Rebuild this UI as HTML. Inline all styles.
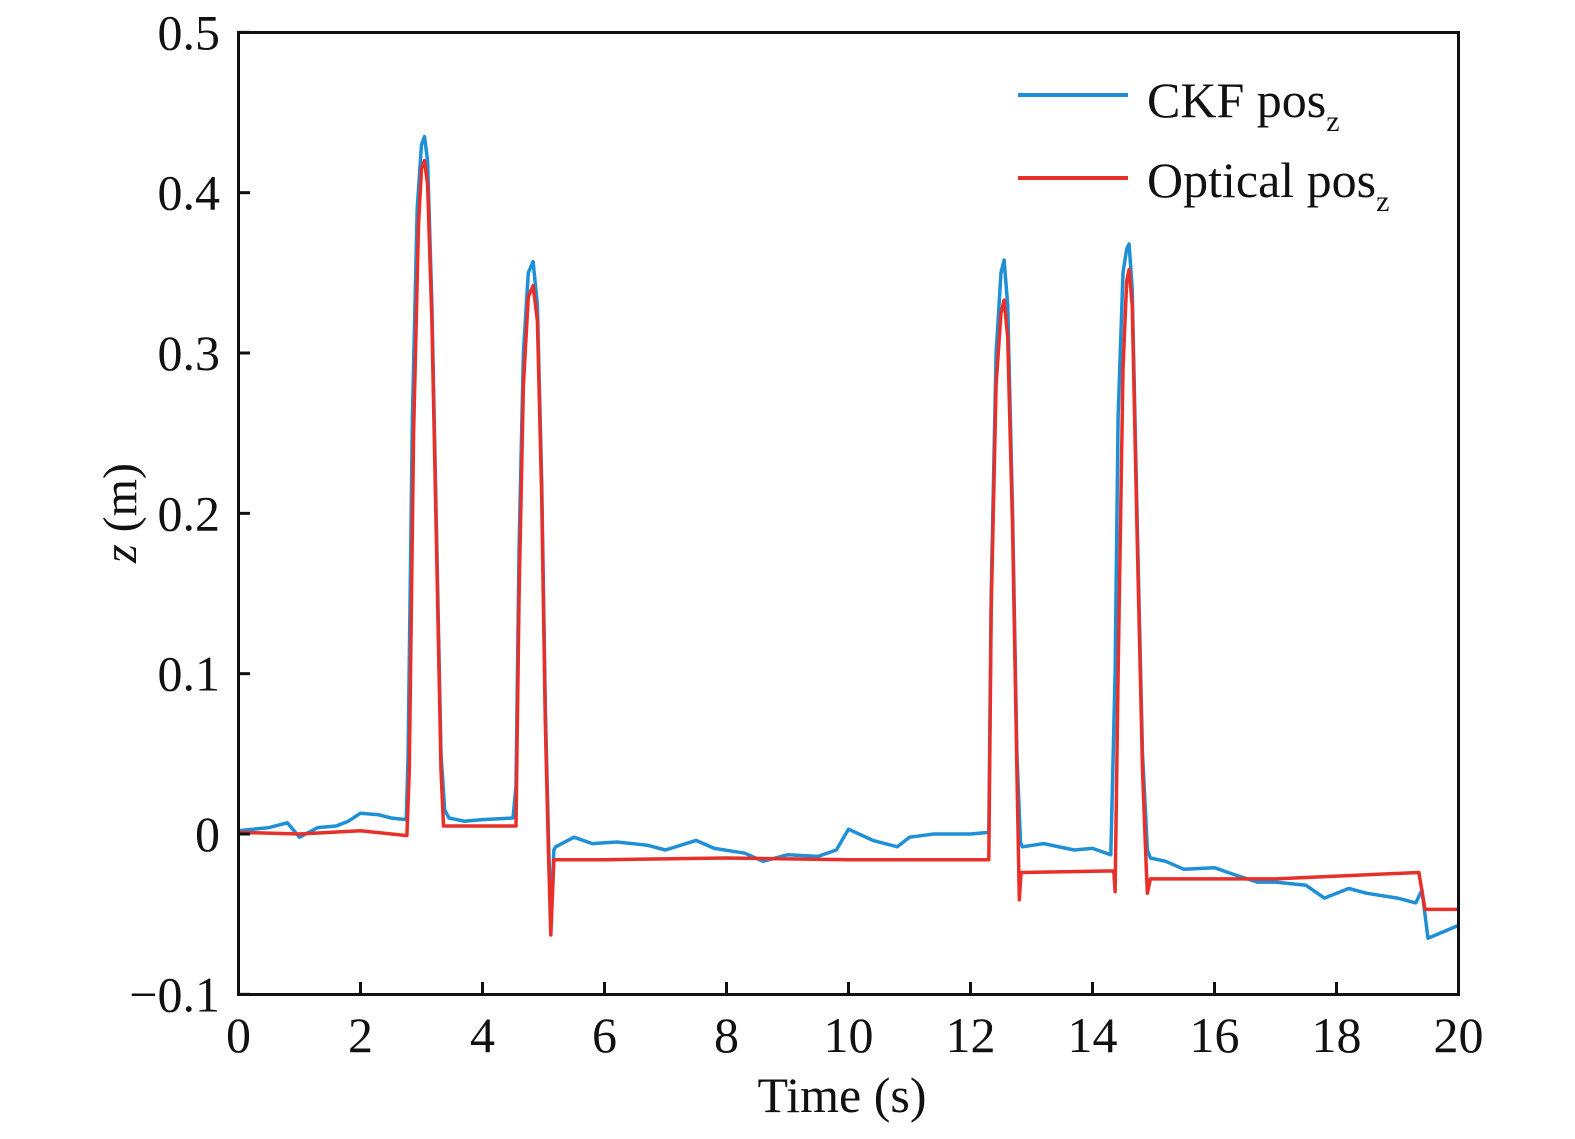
<!DOCTYPE html>
<html><head><meta charset="utf-8"><style>
body{margin:0;background:#fff;}
svg text{font-family:"Liberation Serif",serif;fill:#111;}
</style></head><body>
<svg id="chart" width="1575" height="1134" viewBox="0 0 1575 1134" xmlns="http://www.w3.org/2000/svg">
<rect x="0" y="0" width="1575" height="1134" fill="#fff"/>
<g id="plot"></g>
<rect x="238.5" y="32.5" width="1220" height="962" fill="none" stroke="#111" stroke-width="3"/>
<g id="xt"></g><g id="yt"></g>
<text x="842" y="1112" font-size="50" text-anchor="middle">Time (s)</text>
<text transform="translate(136,513) rotate(-90)" font-size="48" text-anchor="middle"><tspan font-style="italic">z</tspan> (m)</text>
<g>
<line x1="1018" y1="95" x2="1128" y2="95" stroke="#1f8fd6" stroke-width="4"/>
<text x="1147" y="117" font-size="50">CKF pos<tspan font-size="30" dy="14">z</tspan></text>
<line x1="1018" y1="178" x2="1128" y2="178" stroke="#e8302a" stroke-width="4"/>
<text x="1147" y="197" font-size="50">Optical pos<tspan font-size="30" dy="14">z</tspan></text>
</g>
</svg>
<script>
const xTicks=[0,2,4,6,8,10,12,14,16,18,20];
const yTicks=[-0.1,0,0.1,0.2,0.3,0.4,0.5];
const yTickLabels=["\u22120.1","0","0.1","0.2","0.3","0.4","0.5"];
const ckfT=[0,0.5,0.8,1.0,1.3,1.6,1.8,2.0,2.3,2.5,2.75,2.78,2.85,2.93,3.0,3.05,3.1,3.17,3.25,3.32,3.38,3.45,3.7,4.0,4.5,4.55,4.6,4.67,4.75,4.83,4.9,4.97,5.03,5.08,5.12,5.17,5.2,5.5,5.8,6.2,6.7,7.0,7.5,7.8,8.3,8.6,9.0,9.5,9.8,10.0,10.4,10.8,11.0,11.4,12.0,12.3,12.34,12.42,12.5,12.55,12.61,12.69,12.76,12.82,12.85,13.2,13.7,14.0,14.3,14.37,14.42,14.5,14.56,14.6,14.65,14.73,14.82,14.9,14.95,15.2,15.5,16.0,16.3,16.7,17.0,17.5,17.8,18.2,18.5,19.0,19.3,19.4,19.5,20];
const ckfZ=[0.002,0.004,0.007,-0.002,0.004,0.005,0.008,0.013,0.012,0.01,0.009,0.05,0.26,0.39,0.43,0.435,0.42,0.33,0.18,0.05,0.015,0.01,0.008,0.009,0.01,0.03,0.18,0.3,0.35,0.357,0.33,0.22,0.08,0.0,-0.055,-0.01,-0.008,-0.002,-0.006,-0.005,-0.007,-0.01,-0.004,-0.009,-0.012,-0.017,-0.013,-0.014,-0.01,0.003,-0.004,-0.008,-0.002,0.0,0.0,0.001,0.15,0.3,0.35,0.358,0.33,0.2,0.05,-0.005,-0.008,-0.006,-0.01,-0.009,-0.013,0.1,0.26,0.35,0.365,0.368,0.34,0.2,0.05,-0.01,-0.015,-0.017,-0.022,-0.021,-0.025,-0.03,-0.03,-0.032,-0.04,-0.034,-0.037,-0.04,-0.043,-0.035,-0.065,-0.057];
const optT=[0,1.0,2.0,2.76,2.8,2.87,2.95,3.0,3.05,3.1,3.17,3.25,3.32,3.36,4.0,4.55,4.6,4.67,4.75,4.83,4.9,4.97,5.03,5.08,5.12,5.17,6,8,10,12.3,12.34,12.42,12.5,12.55,12.61,12.69,12.76,12.8,12.83,14.35,14.37,14.42,14.5,14.56,14.6,14.65,14.73,14.82,14.88,14.9,14.95,17,19.35,19.45,20];
const optZ=[0.001,0.0,0.002,-0.001,0.04,0.25,0.38,0.415,0.42,0.405,0.32,0.17,0.04,0.005,0.005,0.005,0.15,0.28,0.335,0.342,0.32,0.21,0.07,-0.01,-0.063,-0.016,-0.016,-0.015,-0.016,-0.016,0.14,0.28,0.325,0.333,0.31,0.19,0.04,-0.041,-0.024,-0.023,-0.036,0.1,0.29,0.345,0.352,0.33,0.19,0.04,-0.02,-0.037,-0.028,-0.028,-0.024,-0.047,-0.047];
const X=t=>238.5+t*61;
const Y=z=>834-z*1603.3;
const NS="http://www.w3.org/2000/svg";
const plot=document.getElementById('plot'),xt=document.getElementById('xt'),yt=document.getElementById('yt');
function mk(tag,attrs,parent){const e=document.createElementNS(NS,tag);for(const k in attrs)e.setAttribute(k,attrs[k]);parent.appendChild(e);return e;}
xTicks.forEach(v=>{
  const l=mk('line',{x1:X(v),x2:X(v),y1:994,y2:982,stroke:'#111','stroke-width':3},xt);
  
  
  const t=mk('text',{x:X(v),y:1052,'font-size':50,'text-anchor':'middle'},xt);
  t.textContent=v;
  
  
});
yTicks.forEach((v,i)=>{
  const l=mk('line',{x1:238,x2:250,y1:Y(v),y2:Y(v),stroke:'#111','stroke-width':3},yt);
  
  
  const t=mk('text',{x:220,y:Y(v)+17,'font-size':50,'text-anchor':'end'},yt);
  t.textContent=yTickLabels[i];
  
  
});
function line(ts,zs,color,name){
  const d=ts.map((t,i)=>(i?'L':'M')+X(t).toFixed(1)+' '+Y(zs[i]).toFixed(1)).join(' ');
  const p=mk('path',{d:d,fill:'none',stroke:color,'stroke-width':3.5,'stroke-linejoin':'round'},plot);
  
  
}
line(ckfT,ckfZ,'#1f8fd6','ckf-series-line');
line(optT,optZ,'#e8302a','optical-series-line');
</script>
</body></html>
